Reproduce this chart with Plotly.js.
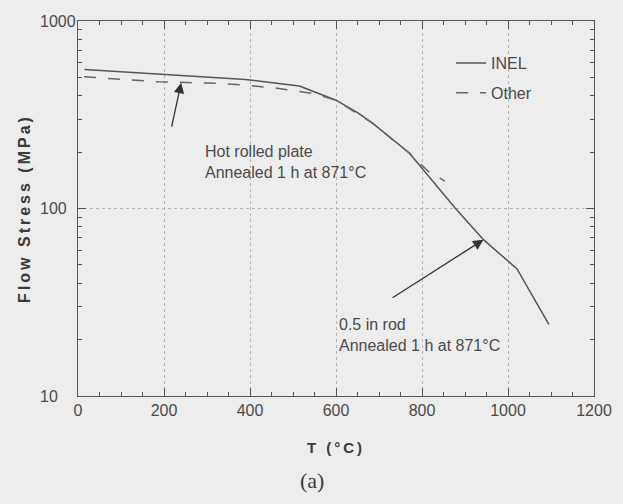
<!DOCTYPE html>
<html>
<head>
<meta charset="utf-8">
<script src="https://cdn.plot.ly/plotly-3.0.1.min.js"></script>
<style>
  html, body { margin: 0; padding: 0; background: #ededed; }
  #chart { width: 623px; height: 504px; }
  .xtitle, .ytitle { letter-spacing: 3px; }
</style>
</head>
<body>
<div id="chart"></div>
<script>
// ---- data ----
var inelT = [15, 390, 515, 540, 600, 650, 685, 771, 820, 877, 943, 1021, 1095];
var inelS = [552, 488, 450, 428, 378, 325, 285, 197, 144, 100.5, 68.2, 47.6, 24.1];

var otherT = [14, 186, 327, 389, 467, 553, 600, 685, 771, 795, 814, 853];
var otherS = [504, 474, 465, 455, 437, 408, 378, 285, 197, 175, 158, 140];

var xMinorVals = [50, 100, 150, 250, 300, 350, 450, 500, 550, 650, 700, 750, 850, 900, 950, 1050, 1100, 1150];
var yTickVals = [10, 100, 1000];
var yTickText = ['10', '100', '1000'];
var yMinorVals = [20, 30, 40, 50, 60, 70, 80, 90, 200, 300, 400, 500, 600, 700, 800, 900];

var seriesNames = ['INEL', 'Other'];
var noteTexts = ['Hot rolled plate<br>Annealed 1 h at 871°C', '0.5 in rod<br>Annealed 1 h at 871°C'];
var noteT = [291, 602];
var noteS = [176.6, 21.1];
var arrowHeadT = [240, 943];
var arrowHeadS = [468, 68.2];
var arrowTailT = [217, 728];
var arrowTailS = [268, 33];

var textColor = '#4a4a4a';
var axisColor = '#555555';
var sans = 'Liberation Sans, Arial, sans-serif';

var traces = [
  {
    x: inelT, y: inelS, name: seriesNames[0], type: 'scatter', mode: 'lines',
    line: { color: '#555555', width: 1.5 }, legendgroup: 'a'
  },
  {
    x: otherT, y: otherS, name: seriesNames[1], type: 'scatter', mode: 'lines',
    line: { color: '#666666', width: 1.5, dash: '12px,12px' }, legendgroup: 'b'
  }
];

var annotations = [];
for (var i = 0; i < yTickVals.length; i++) {
  annotations.push({
    xref: 'paper', yref: 'y', x: -0.0775, y: Math.log10(yTickVals[i]),
    xanchor: 'left', yanchor: 'middle', showarrow: false,
    text: yTickText[i], font: { family: sans, size: 16, color: textColor }
  });
}
for (var j = 0; j < noteTexts.length; j++) {
  annotations.push({
    xref: 'x', yref: 'y', x: noteT[j], y: Math.log10(noteS[j]),
    xanchor: 'left', yanchor: 'middle', align: 'left', showarrow: false,
    text: noteTexts[j], font: { family: sans, size: 16, color: textColor }
  });
  annotations.push({
    xref: 'x', yref: 'y', axref: 'x', ayref: 'y',
    x: arrowHeadT[j], y: Math.log10(arrowHeadS[j]),
    ax: arrowTailT[j], ay: Math.log10(arrowTailS[j]),
    text: '', showarrow: true, arrowhead: 2, arrowsize: 1.6, arrowwidth: 1.3,
    arrowcolor: '#333333', standoff: 0, startstandoff: 0
  });
}
annotations.push({
  xref: 'paper', yref: 'paper', x: 0.4535, y: -0.226,
  xanchor: 'center', yanchor: 'middle', showarrow: false,
  text: '(a)', font: { family: 'Liberation Serif, Times New Roman, serif', size: 22, color: '#3a3a3a' }
});

var layout = {
  width: 623, height: 504,
  margin: { l: 78, r: 29, t: 21, b: 108 },
  paper_bgcolor: '#ededed', plot_bgcolor: '#ededed',
  font: { family: sans, size: 16, color: textColor },
  showlegend: true,
  legend: {
    x: 0.723, y: 0.933, xanchor: 'left', yanchor: 'top',
    bgcolor: 'rgba(0,0,0,0)', traceorder: 'grouped', tracegroupgap: 6,
    font: { family: sans, size: 16, color: textColor }
  },
  xaxis: {
    range: [0, 1200], tickmode: 'linear', tick0: 0, dtick: 200,
    ticks: 'inside', ticklen: 8, tickwidth: 1, tickcolor: axisColor,
    showline: true, linecolor: axisColor, linewidth: 1.2, mirror: 'ticks',
    showgrid: true, gridcolor: '#b5b5b5', griddash: 'dot', gridwidth: 1,
    zeroline: false,
    tickfont: { size: 16, color: textColor },
    minor: { tickmode: 'array', tickvals: xMinorVals, ticks: 'inside', ticklen: 4, tickcolor: axisColor, showgrid: false },
    title: { text: 'T (°C)', standoff: 24, font: { size: 15, color: '#3a3a3a', weight: 'bold' } }
  },
  yaxis: {
    type: 'log', range: [1, 3], tickmode: 'linear', tick0: 0, dtick: 1, showticklabels: false,
    ticks: 'inside', ticklen: 8, tickwidth: 1, tickcolor: axisColor,
    showline: true, linecolor: axisColor, linewidth: 1.2, mirror: 'ticks',
    showgrid: true, gridcolor: '#b5b5b5', griddash: 'dot', gridwidth: 1,
    zeroline: false,
    minor: { tickmode: 'array', tickvals: yMinorVals, ticks: 'inside', ticklen: 4, tickcolor: axisColor, showgrid: false },
    title: { text: 'Flow Stress (MPa)', standoff: 42, font: { size: 16, color: '#3a3a3a', weight: 'bold' } }
  },
  annotations: annotations
};

Plotly.newPlot('chart', traces, layout, { displayModeBar: false, staticPlot: true });
</script>
</body>
</html>
